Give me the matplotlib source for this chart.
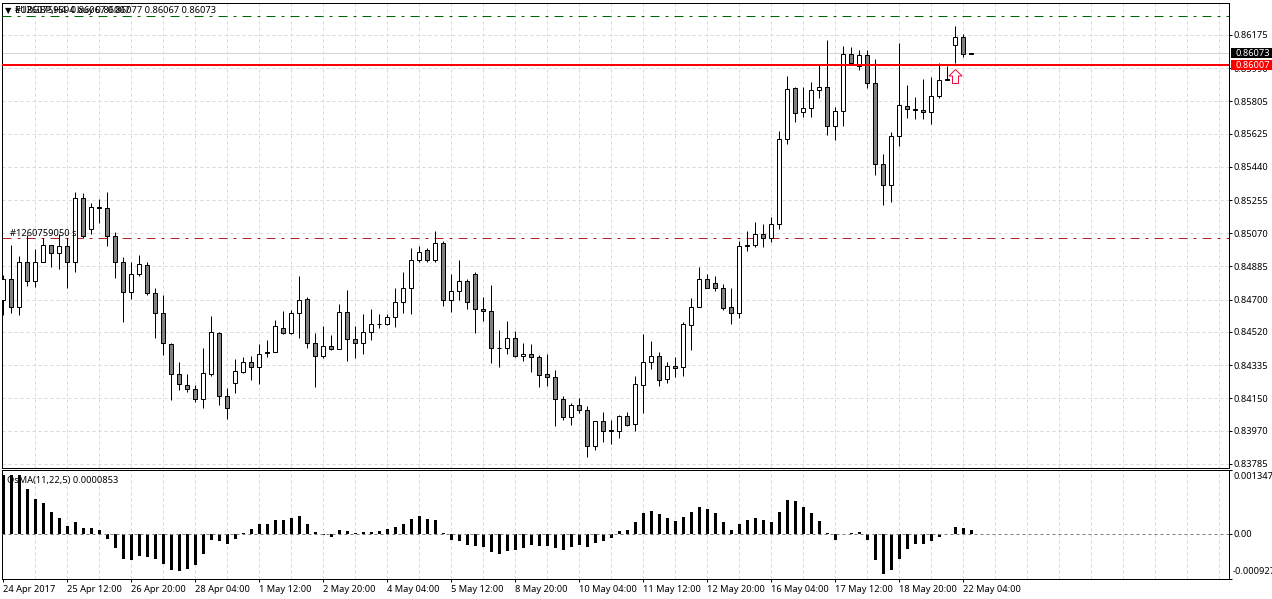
import matplotlib
matplotlib.use("Agg")
import matplotlib.pyplot as plt
from matplotlib.path import Path
from matplotlib.patches import Rectangle

plt.rcParams["font.family"] = ["Noto Sans", "DejaVu Sans"]
plt.rcParams["lines.scale_dashes"] = False

# H4 candles, prices in 1e-5 points
OPENS = [84700,84817,84656,84912,84801,84907,85002,84962,84996,84912,
         85264,85096,85214,85208,85057,84907,84745,84840,84895,84734,
         84628,84455,84287,84226,84204,84148,84287,84516,84165,84237,
         84298,84354,84326,84410,84410,84544,84516,84628,84706,84460,
         84388,84444,84427,84633,84483,84460,84522,84564,84566,84605,
         84689,84762,84918,84974,84923,85013,84695,84750,84801,84845,
         84650,84639,84431,84432,84488,84388,84399,84382,84287,84271,
         84148,84047,84114,84086,83886,84025,83975,83969,84053,84008,
         84226,84354,84388,84259,84332,84326,84561,84656,84812,84795,
         84762,84656,84628,84996,85007,85063,85046,85124,85593,85878,
         85744,85766,85866,85883,85666,85749,86067,86000,86062,85905,
         85454,85336,85610,85777,85758,85755,85744,85833,85928,86118,
         86162,86067]
HIGHS = [84836,85003,84942,85059,84981,85046,85002,85068,85046,85297,
         85292,85236,85258,85297,85074,84935,84907,84946,84907,84762,
         84728,84460,84354,84287,84226,84432,84611,84522,84209,84371,
         84382,84388,84455,84477,84585,84635,84640,84834,84717,84516,
         84550,84505,84678,84756,84555,84617,84650,84617,84622,84767,
         84856,84990,84996,84985,85080,85029,84840,84918,84817,84856,
         84717,84784,84533,84583,84527,84460,84455,84393,84399,84310,
         84165,84125,84153,84109,84025,84075,84027,84058,84075,84276,
         84510,84471,84410,84354,84382,84577,84711,84879,84840,84834,
         84789,84762,85024,85080,85135,85119,85158,85638,85945,85883,
         85883,85913,86006,86145,85772,86112,86106,86090,86090,86039,
         85509,85632,86129,85894,85827,85928,85939,86017,86000,86224,
         86179,86077]
LOWS = [84613,84625,84613,84774,84771,84907,84882,84868,84765,84854,
        85041,85063,85128,84999,84821,84575,84704,84834,84728,84486,
        84391,84140,84196,84185,84129,84095,84274,84112,84034,84179,
        84291,84252,84228,84380,84410,84508,84508,84486,84430,84213,
        84374,84419,84427,84358,84374,84397,84475,84542,84561,84547,
        84625,84620,84912,84912,84912,84667,84629,84696,84648,84514,
        84583,84346,84324,84397,84380,84358,84296,84213,84218,83995,
        84027,84000,84070,83822,83861,83906,83894,83928,83995,83967,
        84067,84313,84218,84235,84268,84274,84419,84656,84762,84748,
        84644,84564,84598,84970,84992,84994,85022,85094,85568,85691,
        85719,85719,85825,85619,85591,85666,86017,85978,85878,85392,
        85228,85245,85557,85714,85705,85705,85680,85822,85922,86017,
        86051,86067]
CLOSES = [84817,84656,84912,84806,84907,85002,84962,84996,84912,85264,
          85052,85214,85208,85057,84907,84745,84840,84901,84734,84628,
          84460,84287,84231,84204,84148,84293,84522,84165,84098,84304,
          84354,84326,84399,84402,84550,84516,84628,84700,84460,84388,
          84444,84427,84633,84483,84460,84522,84566,84566,84605,84689,
          84762,84918,84968,84923,85013,84695,84750,84801,84689,84650,
          84639,84432,84432,84488,84388,84399,84382,84282,84271,84148,
          84047,84114,84086,83886,84025,83967,83969,84053,84003,84231,
          84354,84388,84254,84332,84321,84566,84656,84812,84762,84762,
          84653,84628,84996,85007,85068,85046,85124,85593,85872,85738,
          85766,85866,85883,85666,85749,86067,86017,86062,85905,85454,
          85336,85610,85783,85760,85760,85744,85833,85922,85922,86162,
          86067,86073]

# OsMA(11,22,5) histogram, in 1e-5
OSMA = [123,123,123,93,74,64,47,34,17.5,26,13,13,9,
        -10,-29,-52,-54,-45,-48,-52,-62,-75,-77,-73,-64,-41,-12,-14,-20,-10,
        3,11,20,22,30,30,34,38,22,5,-2,-7,9,
        7,2,4,4,7,11,15,22,32,38,32,30,3,
        -12,-14,-22,-24,-27,-37,-41,-35,-33,-29,-22,-24,-24,-29,-33,-27,-22,-27,-18,-14,-8,
        7,9,26,43,49,41,34,28,
        36,47,57,53,43,26,9,22,30,34,30,26,47,72,70,57,43,28,3,
        -12,1,2,5,-12,-54,-83,-75,-52,-31,-20,-20,-14,-6,0.5,15,13,8.53]

PRICE_TICKS = [0.86175, 0.85990, 0.85805, 0.85625, 0.85440, 0.85255, 0.85070,
               0.84885, 0.84700, 0.84520, 0.84335, 0.84150, 0.83970, 0.83785]
OSMA_TICKS = [0.001347, 0.0, -0.000927]
OSMA_TICK_TEXT = ["0.001347", "0.00", "-0.000927"]
DATE_LABELS = ["24 Apr 2017", "25 Apr 12:00", "26 Apr 20:00", "28 Apr 04:00",
               "1 May 12:00", "2 May 20:00", "4 May 04:00", "5 May 12:00",
               "8 May 20:00", "10 May 04:00", "11 May 12:00", "12 May 20:00",
               "16 May 04:00", "17 May 12:00", "18 May 20:00", "22 May 04:00"]

BID = 0.86073
ENTRY = 0.86007
TAKE_PROFIT = 0.86281
SELL_LEVEL = 0.85042
SIGNAL_BAR = 119
SIGNAL_PRICE = 0.85945

WIDTH, HEIGHT = 1272, 599
PX = 1 / 100 * 72  # points per pixel at 100 dpi
FONT = 6.7
PANEL_W = 1227.0


def panel(left, top, right, bottom):
    return fig.add_axes([left / WIDTH, 1 - bottom / HEIGHT,
                         (right - left) / WIDTH, (bottom - top) / HEIGHT])


fig = plt.figure(figsize=(WIDTH / 100, HEIGHT / 100), dpi=100, facecolor="white")
price_ax = panel(2.4, 2.5, 1229.4, 467.5)
osma_ax = panel(2.4, 469.5, 1229.4, 578.5)

bars = range(len(OPENS))
x_range = (-0.1, 153.25)
grid_style = dict(color="#d9d9d9", lw=1 * PX, ls=(0, (3 * PX, 3 * PX)), zorder=0)
dash_dot = (0, (9 * PX, 6 * PX, 3 * PX, 6 * PX))

for ax in (price_ax, osma_ax):
    ax.set_xlim(*x_range)
    for spine in ax.spines.values():
        spine.set_linewidth(1 * PX)
    for k in range(4, 154, 4):
        ax.axvline(k, **grid_style)

# price panel
price_ax.set_ylim(0.83764, 0.86356)
for p in PRICE_TICKS:
    price_ax.axhline(p, **grid_style)
price_ax.axhline(BID, color="#d6d6d6", lw=1 * PX, zorder=1)

o = [v / 1e5 for v in OPENS]
h = [v / 1e5 for v in HIGHS]
l = [v / 1e5 for v in LOWS]
c = [v / 1e5 for v in CLOSES]
price_ax.vlines(list(bars), l, h, color="black", lw=1 * PX, zorder=3)
bottoms = [min(a, b) for a, b in zip(o, c)]
heights = [abs(a - b) for a, b in zip(o, c)]
fills = ["white" if cl >= op else "#808080" for op, cl in zip(OPENS, CLOSES)]
price_ax.bar(list(bars), heights, bottom=bottoms, width=0.5, color=fills,
             edgecolor="black", linewidth=1 * PX, zorder=4)

price_ax.axhline(TAKE_PROFIT, color="#006400", lw=1 * PX, ls=dash_dot, zorder=5)
price_ax.axhline(SELL_LEVEL, color="#b22222", lw=1 * PX, ls=dash_dot, zorder=2)
price_ax.axhline(ENTRY, color="#ff0000", lw=2 * PX, zorder=6)

arrow = Path([(0, 7), (6.5, 0.5), (3, 0.5), (3, -7), (-3, -7), (-3, 0.5), (-6.5, 0.5), (0, 7)],
             closed=True)
price_ax.plot([SIGNAL_BAR], [SIGNAL_PRICE], marker=arrow, ms=14 * PX, mfc="white",
              mec="#f0103c", mew=1.0 * PX, zorder=7, clip_on=False)

price_ax.set_xticks([])
price_ax.yaxis.tick_right()
price_ax.set_yticks(PRICE_TICKS)
price_ax.set_yticklabels([f"{p:.5f}" for p in PRICE_TICKS])
price_ax.tick_params(axis="y", length=3 * PX, width=1 * PX, pad=1.5 * PX, labelsize=FONT)

text_style = dict(fontsize=FONT, color="black", zorder=8)
price_ax.text(8 / PANEL_W, SELL_LEVEL + 1.0e-5, "#1260759050 s", va="bottom",
              transform=price_ax.get_yaxis_transform(), **text_style)
price_ax.text(13 / PANEL_W, 0.9835, "#1260759594 buy 0.86007", va="center",
              transform=price_ax.transAxes, **text_style)
price_ax.text(13 / PANEL_W, 0.9835, "EURGBP,H4  0.86067 0.86077 0.86067 0.86073", va="center",
              transform=price_ax.transAxes, **text_style)
price_ax.text(3.0 / PANEL_W, 0.9835, "\u25BC", va="center", fontsize=6, color="black",
              transform=price_ax.transAxes, family="DejaVu Sans", zorder=8)

# current price tags beside the axis, running to the edge of the figure
tag_frac = 1 + 1.6 / PANEL_W
for value, face in ((BID, "black"), (ENTRY, "#ff0000")):
    price_ax.add_patch(Rectangle((tag_frac, value - 5 * 5.575e-5), 42 / PANEL_W, 10 * 5.575e-5,
                                 transform=price_ax.get_yaxis_transform(), facecolor=face,
                                 edgecolor="none", clip_on=False, zorder=9))
    price_ax.text(1 + 5.6 / PANEL_W, value, f"{value:.5f}", color="white", fontsize=FONT,
                  va="center", ha="left", transform=price_ax.get_yaxis_transform(),
                  clip_on=False, zorder=10)

# oscillator panel
osma_ax.set_ylim(-0.000927, 0.001347)
osma_ax.bar(list(bars), [v / 1e5 for v in OSMA], width=0.375, color="black", zorder=3)
osma_ax.axhline(0, color="#808080", lw=1 * PX, ls=(0, (3 * PX, 3 * PX)), zorder=4)
osma_ax.yaxis.tick_right()
osma_ax.set_yticks(OSMA_TICKS)
osma_ax.set_yticklabels([])
osma_ax.tick_params(axis="y", length=3 * PX, width=1 * PX)
for frac, label in zip((0.934, 0.4077, 0.062), OSMA_TICK_TEXT):
    osma_ax.text(1 + 3.6 / PANEL_W, frac, label, fontsize=FONT, color="black", va="center",
                 ha="left", transform=osma_ax.transAxes, clip_on=False)

osma_ax.set_xticks(range(0, 8 * len(DATE_LABELS), 8))
osma_ax.set_xticklabels(DATE_LABELS)
osma_ax.tick_params(axis="x", length=3 * PX, width=1 * PX, pad=3.5 * PX, labelsize=FONT)
for lab in osma_ax.get_xticklabels():
    lab.set_ha("left")

osma_ax.text(5 / PANEL_W, 0.90, "OsMA(11,22,5) 0.0000853", va="center",
             transform=osma_ax.transAxes, **text_style)

fig.savefig("out.png", dpi=100, facecolor="white")
